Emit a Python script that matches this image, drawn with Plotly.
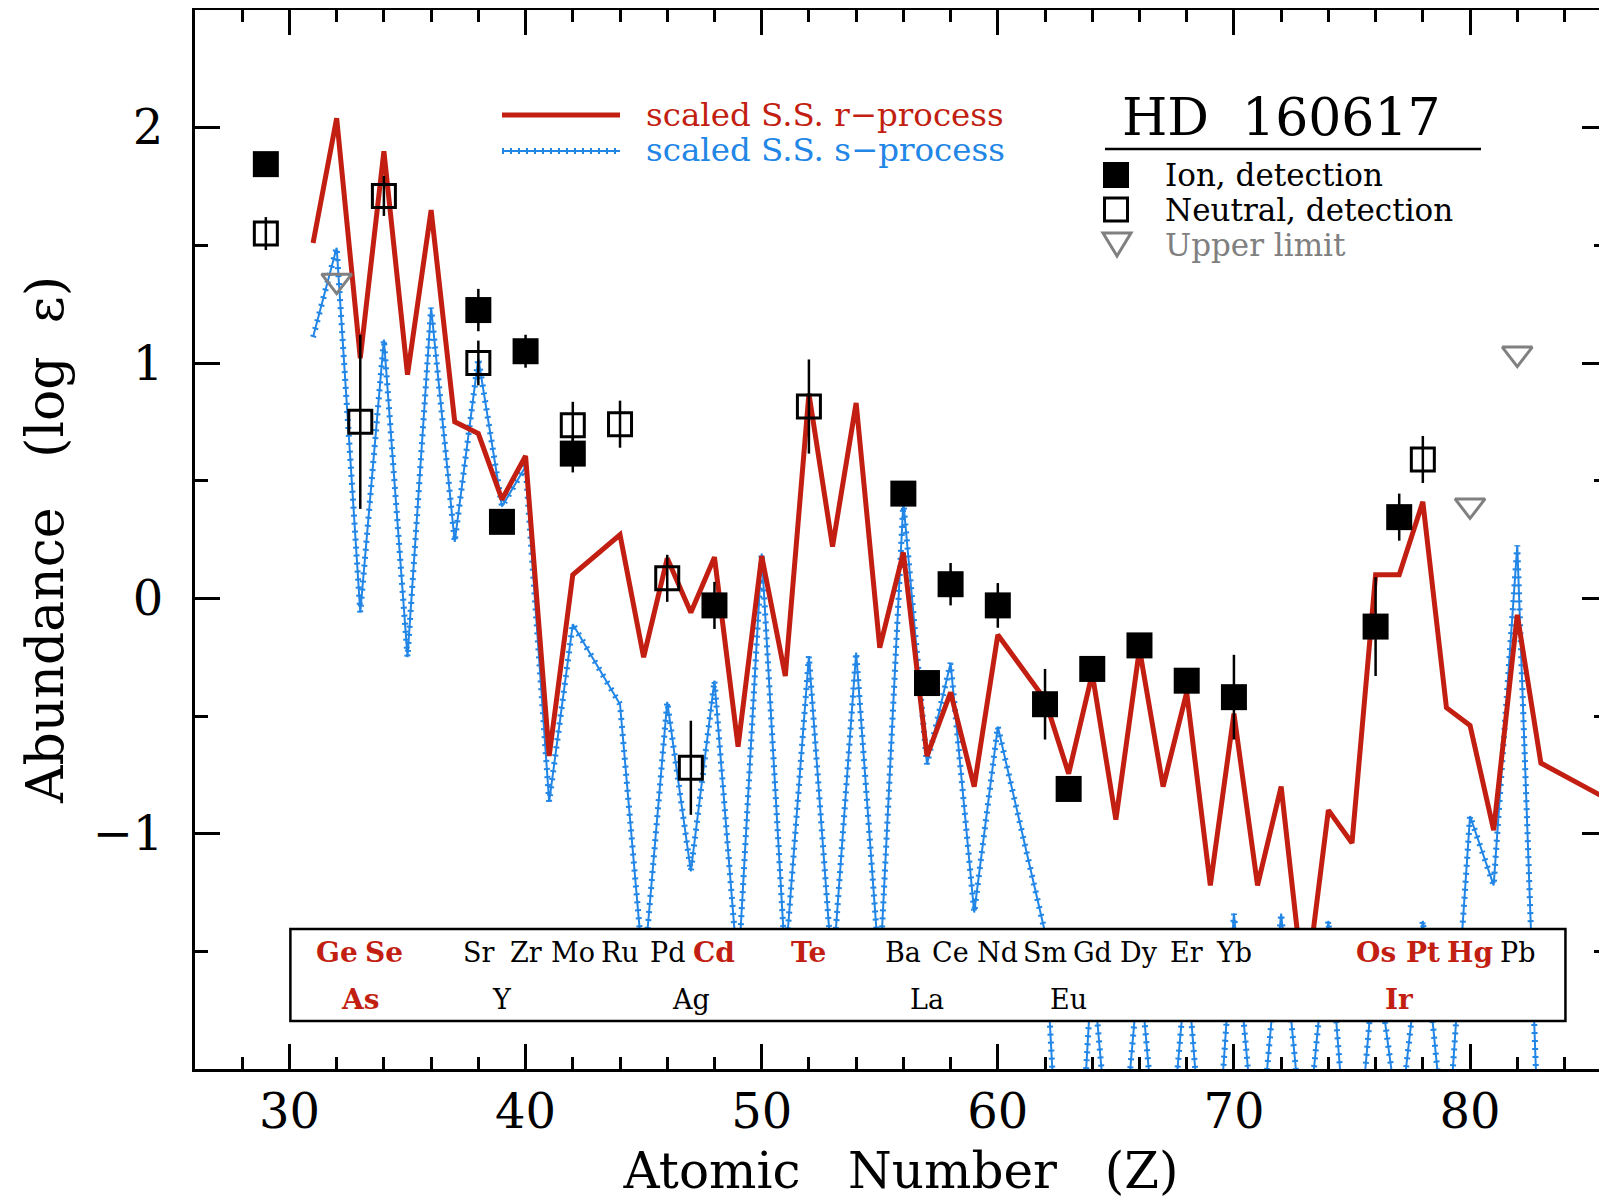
import plotly.graph_objects as go

# ---------------- data ----------------
r_Z = [31, 32, 33, 34, 35, 36, 37, 38, 39, 40, 41, 42, 44, 45, 46, 47, 48, 49, 50,
       51, 52, 53, 54, 55, 56, 57, 58, 59, 60, 62, 63, 64, 65, 66, 67, 68, 69, 70,
       71, 72, 73, 74, 75, 76, 77, 78, 79, 80, 81, 82, 83, 90]
r_val = [1.51, 2.04, 1.02, 1.90, 0.95, 1.65, 0.75, 0.70, 0.42, 0.605, -0.67, 0.10,
         0.27, -0.25, 0.17, -0.06, 0.175, -0.63, 0.18, -0.33, 0.87, 0.22, 0.83,
         -0.21, 0.195, -0.67, -0.40, -0.80, -0.155, -0.43, -0.745, -0.32, -0.94,
         -0.215, -0.80, -0.40, -1.22, -0.49, -1.22, -0.80, -1.70, -0.90, -1.04,
         0.10, 0.10, 0.41, -0.465, -0.54, -0.985, -0.07, -0.70, -1.08]

s_Z = [31, 32, 33, 34, 35, 36, 37, 38, 39, 40, 41, 42, 44, 45, 46, 47, 48, 49, 50,
       51, 52, 53, 54, 55, 56, 57, 58, 59, 60, 62, 63, 64, 65, 66, 67, 68, 69, 70,
       71, 72, 73, 74, 75, 76, 77, 78, 79, 80, 81, 82, 83]
s_val = [1.11, 1.49, -0.06, 1.10, -0.25, 1.235, 0.24, 1.02, 0.39, 0.56, -0.865,
         -0.11, -0.45, -1.60, -0.44, -1.16, -0.35, -1.60, 0.19, -1.55, -0.245,
         -1.60, -0.23, -1.60, 0.41, -0.705, -0.275, -1.335, -0.545, -1.42, -3.3,
         -1.55, -2.7, -1.55, -2.7, -1.55, -2.8, -1.34, -2.45, -1.34, -2.4, -1.37,
         -2.65, -1.5, -2.25, -1.37, -2.4, -0.925, -1.22, 0.225, -2.6]

ion_Z = [29, 38, 39, 40, 42, 48, 56, 57, 58, 60, 62, 63, 64, 66, 68, 70, 76, 77]
ion_val = [1.845, 1.225, 0.325, 1.05, 0.615, -0.03, 0.445, -0.36, 0.06, -0.03,
           -0.45, -0.81, -0.30, -0.20, -0.35, -0.42, -0.12, 0.345]
ion_err = [0.0, 0.09, 0.0, 0.07, 0.08, 0.10, 0.04, 0.05, 0.09, 0.095, 0.15, 0.0,
           0.04, 0.0, 0.03, 0.18, 0.21, 0.10]

neu_Z = [29, 33, 34, 38, 42, 44, 46, 47, 52, 78]
neu_val = [1.55, 0.75, 1.71, 1.00, 0.735, 0.74, 0.085, -0.72, 0.815, 0.59]
neu_err = [0.07, 0.37, 0.085, 0.095, 0.10, 0.10, 0.10, 0.20, 0.20, 0.10]

ul_Z = [32, 80, 82]
ul_val = [1.35, 0.395, 1.04]

row1_el = ["Ge", "Se", "Sr", "Zr", "Mo", "Ru", "Pd", "Cd", "Te", "Ba", "Ce", "Nd",
           "Sm", "Gd", "Dy", "Er", "Yb", "Os", "Pt", "Hg", "Pb"]
row1_Z = [32, 34, 38, 40, 42, 44, 46, 48, 52, 56, 58, 60, 62, 64, 66, 68, 70, 76,
          78, 80, 82]
row2_el = ["As", "Y", "Ag", "La", "Eu", "Ir"]
row2_Z = [33, 39, 47, 57, 63, 77]
red_el = ["Ge", "Se", "As", "Cd", "Te", "Os", "Pt", "Hg", "Ir"]

x_ticks = [30, 40, 50, 60, 70, 80]
x_minor = [28, 32, 34, 36, 38, 42, 44, 46, 48, 52, 54, 56, 58, 62, 64, 66, 68,
           72, 74, 76, 78, 82, 84]
y_ticks = [-1, 0, 1, 2]
y_labels = ["\u22121", "0", "1", "2"]
y_minor = [-1.5, -0.5, 0.5, 1.5]

# ---------------- style ----------------
RED = "#c21f12"
BLUE = "#2286e6"
GRAY = "#808080"
SERIF = "DejaVu Serif"
OFF = 8                      # page offset of the figure (body margin)
W, H = 1607 - OFF, 1204 - OFF
ML, MR, MT, MB = 195 - OFF, 0, 10 - OFF, 1204 - 1069
PW, PH = W - ML - MR, H - MT - MB


def px(X):                   # page pixel -> paper
    return (X - OFF - ML) / PW


def py(Y):
    return (H - MB - (Y - OFF)) / PH


fig = go.Figure()

# s-process: thin line + short perpendicular ticks
fig.add_trace(go.Scatter(x=s_Z, y=s_val, mode="lines",
                         line=dict(color=BLUE, width=2), showlegend=False))
fig.add_trace(go.Scatter(x=s_Z, y=s_val, mode="lines",
                         line=dict(color=BLUE, width=6, dash="2px,6px"),
                         showlegend=False))
# r-process
fig.add_trace(go.Scatter(x=r_Z, y=r_val, mode="lines",
                         line=dict(color=RED, width=5), showlegend=False))

err_style = dict(type="data", symmetric=True, width=0, thickness=2.5, color="black")

fig.add_trace(go.Scatter(x=neu_Z, y=neu_val, mode="markers",
                         error_y=dict(array=neu_err, **err_style),
                         marker=dict(symbol="square-open", size=23, color="black",
                                     line=dict(width=3, color="black")),
                         showlegend=False))
fig.add_trace(go.Scatter(x=ion_Z, y=ion_val, mode="markers",
                         error_y=dict(array=ion_err, **err_style),
                         marker=dict(symbol="square", size=26, color="black",
                                     line=dict(width=0)),
                         showlegend=False))
fig.add_trace(go.Scatter(x=ul_Z, y=ul_val, mode="markers",
                         marker=dict(symbol="triangle-down-open", size=26, color=GRAY,
                                     line=dict(width=3, color=GRAY)),
                         showlegend=False))

shapes = []
annotations = []

# element label box (covers lines)
shapes.append(dict(type="rect", xref="x", yref="y", x0=30.04, x1=84.04,
                   y0=-1.796, y1=-1.405, fillcolor="white",
                   line=dict(color="black", width=2.5), layer="above"))
for els, zs, yy in [(row1_el, row1_Z, -1.505), (row2_el, row2_Z, -1.705)]:
    for el, z in zip(els, zs):
        red = el in red_el
        annotations.append(dict(x=z, y=yy, xref="x", yref="y", text=el,
                                showarrow=False,
                                font=dict(family=SERIF, size=28 if red else 27,
                                          color=RED if red else "black",
                                          weight="bold" if red else "normal")))

# line legend (top left)
shapes.append(dict(type="line", xref="paper", yref="paper", x0=px(502), x1=px(620),
                   y0=py(115), y1=py(115), line=dict(color=RED, width=5)))
shapes.append(dict(type="line", xref="paper", yref="paper", x0=px(502), x1=px(620),
                   y0=py(151), y1=py(151), line=dict(color=BLUE, width=2)))
shapes.append(dict(type="line", xref="paper", yref="paper", x0=px(502), x1=px(620),
                   y0=py(151), y1=py(151), line=dict(color=BLUE, width=6, dash="2px,6px")))
annotations.append(dict(x=px(644), y=py(115), xref="paper", yref="paper",
                        xanchor="left", yanchor="middle", showarrow=False,
                        text="scaled S.S. r\u2212process",
                        font=dict(family=SERIF, size=32.5, color=RED)))
annotations.append(dict(x=px(644), y=py(150), xref="paper", yref="paper",
                        xanchor="left", yanchor="middle", showarrow=False,
                        text="scaled S.S. s\u2212process",
                        font=dict(family=SERIF, size=32.5, color=BLUE)))

# marker legend (top right)
annotations.append(dict(x=px(1281), y=py(117), xref="paper", yref="paper",
                        xanchor="center", yanchor="middle", showarrow=False,
                        text="HD\u00a0\u00a0160617",
                        font=dict(family=SERIF, size=52, color="black")))
shapes.append(dict(type="line", xref="paper", yref="paper", x0=px(1105), x1=px(1481),
                   y0=py(149), y1=py(149), line=dict(color="black", width=2.5)))
shapes.append(dict(type="rect", xref="paper", yref="paper", x0=px(1103), x1=px(1129),
                   y0=py(188), y1=py(162), fillcolor="black", line=dict(width=0)))
shapes.append(dict(type="rect", xref="paper", yref="paper", x0=px(1104.5), x1=px(1127.5),
                   y0=py(221), y1=py(198), fillcolor="rgba(0,0,0,0)",
                   line=dict(color="black", width=3)))
tri = "M {:.5f},{:.5f} L {:.5f},{:.5f} L {:.5f},{:.5f} Z".format(
    px(1103), py(233), px(1131), py(233), px(1117), py(256))
shapes.append(dict(type="path", xref="paper", yref="paper", path=tri,
                   line=dict(color=GRAY, width=3)))
for txt, yy, col in [("Ion, detection", 175, "black"),
                     ("Neutral, detection", 210, "black"),
                     ("Upper limit", 245, GRAY)]:
    annotations.append(dict(x=px(1163), y=py(yy), xref="paper", yref="paper",
                            xanchor="left", yanchor="middle", showarrow=False,
                            text=txt, font=dict(family=SERIF, size=31, color=col)))

axis_common = dict(showline=True, linewidth=3, linecolor="black", mirror="ticks",
                   ticks="inside", ticklen=25, tickwidth=2.5, tickcolor="black",
                   showgrid=False, zeroline=False,
                   tickfont=dict(family=SERIF, size=48, color="black"))

fig.update_layout(
    width=W, height=H,
    margin=dict(l=ML, r=MR, t=MT, b=MB, autoexpand=False),
    paper_bgcolor="white", plot_bgcolor="white",
    shapes=shapes, annotations=annotations,
    xaxis=dict(range=[26, 85.8], tickmode="array", tickvals=x_ticks,
               ticktext=[str(v) for v in x_ticks], ticklabelstandoff=-2,
               minor=dict(tickmode="array", tickvals=x_minor, ticks="inside",
                          ticklen=12, tickwidth=2.5, tickcolor="black"),
               title=dict(text="Atomic\u00a0\u00a0\u00a0Number\u00a0\u00a0\u00a0(Z)",
                          standoff=16,
                          font=dict(family=SERIF, size=50, color="black")),
               **axis_common),
    yaxis=dict(range=[-2, 2.5], tickmode="array", tickvals=y_ticks,
               ticktext=y_labels, ticklabelstandoff=19,
               minor=dict(tickmode="array", tickvals=y_minor, ticks="inside",
                          ticklen=13, tickwidth=2.5, tickcolor="black"),
               title=dict(text="Abundance\u00a0\u00a0\u00a0(log\u00a0\u00a0\u03b5)",
                          standoff=13,
                          font=dict(family=SERIF, size=52, color="black")),
               **axis_common),
    showlegend=False,
)

fig.write_html("out.html")
